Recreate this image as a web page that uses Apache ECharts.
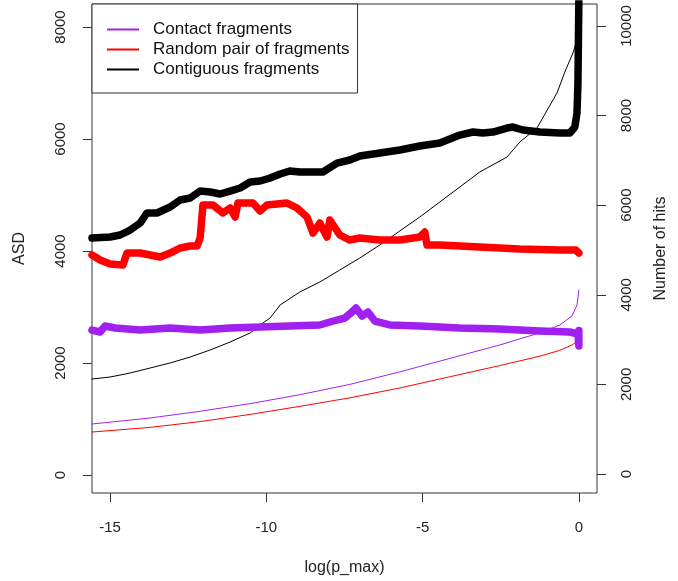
<!DOCTYPE html>
<html>
<head>
<meta charset="utf-8">
<script src="https://cdn.jsdelivr.net/npm/echarts/dist/echarts.min.js"></script>
<style>
html,body{margin:0;padding:0;background:#fff;}
#chart{width:678px;height:581px;}
</style>
</head>
<body>
<div id="chart"></div>
<script>
// ---- data ----
const seriesNames = ['Contact fragments', 'Random pair of fragments', 'Contiguous fragments'];
const xTicks = [-15, -10, -5, 0];
const asdTicks = [0, 2000, 4000, 6000, 8000];
const hitsTicks = [0, 2000, 4000, 6000, 8000, 10000];

// ASD (left axis), thick lines
const contiguousAsdX = [-15.58,-15.00,-14.68,-14.36,-14.04,-13.82,-13.50,-13.08,-12.76,-12.44,-12.12,-11.80,-11.48,-11.16,-10.84,-10.52,-10.20,-9.88,-9.56,-9.25,-8.93,-8.61,-8.19,-7.74,-7.33,-7.01,-6.37,-5.73,-5.09,-4.45,-3.81,-3.39,-3.07,-2.75,-2.30,-2.11,-1.79,-1.25,-0.61,-0.29,-0.13,-0.06,-0.03,0];
const contiguousAsd = [4232,4250,4286,4375,4500,4679,4679,4786,4911,4946,5071,5054,5018,5071,5125,5232,5250,5304,5375,5429,5411,5411,5411,5571,5625,5696,5750,5804,5875,5929,6071,6125,6107,6125,6196,6214,6161,6125,6107,6107,6214,6464,7000,8500];

const randomAsdX = [-15.58,-15.32,-15.00,-14.59,-14.46,-14.04,-13.72,-13.40,-13.08,-12.76,-12.44,-12.22,-12.12,-12.03,-11.71,-11.39,-11.16,-11.00,-10.91,-10.43,-10.20,-9.98,-9.34,-9.02,-8.70,-8.51,-8.29,-8.06,-7.97,-7.65,-7.33,-7.01,-6.37,-5.73,-5.09,-4.93,-4.86,-4.45,-3.17,-1.89,-0.61,-0.10,0];
const randomAsd = [3929,3839,3768,3750,3964,3964,3929,3893,3964,4054,4089,4089,4232,4821,4821,4679,4768,4607,4857,4857,4714,4821,4857,4768,4607,4321,4500,4250,4554,4286,4196,4232,4196,4196,4250,4339,4107,4107,4071,4036,4018,4018,3964];

const contactAsdX = [-15.58,-15.32,-15.16,-14.84,-14.04,-13.08,-12.12,-11.16,-10.20,-9.25,-8.29,-7.74,-7.49,-7.26,-7.13,-6.94,-6.75,-6.53,-6.05,-5.09,-3.81,-2.53,-1.25,-0.29,-0.03,0,0];
const contactAsd = [2589,2554,2661,2625,2589,2625,2589,2625,2643,2661,2679,2768,2804,2911,2982,2839,2911,2750,2679,2661,2625,2607,2571,2554,2518,2304,2580];

// Number of hits (right axis), thin lines
const contiguousHitsX = [-15.58,-15.00,-14.36,-13.72,-13.08,-12.44,-11.80,-11.16,-10.52,-10.20,-9.88,-9.56,-8.93,-8.29,-7.65,-7.01,-6.37,-5.73,-5.09,-4.45,-3.81,-3.17,-2.30,-1.89,-1.34,-0.70,-0.45,-0.19,-0.06,0];
const contiguousHits = [2120,2165,2254,2366,2478,2611,2768,2946,3147,3326,3482,3772,4062,4285,4553,4821,5111,5424,5736,6071,6406,6741,7075,7410,7723,8504,8973,9397,9687,9910];

const contactHitsX = [-15.58,-13.72,-12.12,-10.52,-8.93,-7.33,-5.73,-4.13,-2.53,-1.25,-0.61,-0.22,-0.06,0];
const contactHits = [1116,1250,1400,1570,1770,2000,2280,2580,2880,3150,3326,3527,3772,4107];

const randomHitsX = [-15.58,-13.72,-12.12,-10.52,-8.93,-7.33,-5.73,-4.13,-2.53,-1.25,-0.61,-0.22,0];
const randomHits = [937,1040,1170,1330,1510,1700,1920,2170,2420,2630,2760,2880,2990];

// ---- chart ----
const FONT = '"Liberation Sans", Arial, Helvetica, sans-serif';
const COL = {contact: '#A020F0', random: '#FF0000', contig: '#000000'};
const zip = (xs, ys) => xs.map((x, i) => [x, ys[i]]);
const plain = v => String(v);

function line(name, xs, ys, color, width, axis, z) {
  return {
    name: name, type: 'line', yAxisIndex: axis, data: zip(xs, ys),
    showSymbol: false, symbol: 'none', color: color, z: z,
    lineStyle: {color: color, width: width, cap: 'round', join: 'round'},
    emphasis: {disabled: true}, animation: false
  };
}

const chart = echarts.init(document.getElementById('chart'), null, {renderer: 'canvas'});
const tickStyle = {color: '#333', width: 1};
chart.setOption({
  backgroundColor: '#fff',
  animation: false,
  textStyle: {fontFamily: FONT},
  grid: {left: 92, right: 81, top: 4, bottom: 88, show: true, borderColor: '#333', borderWidth: 1, backgroundColor: 'transparent'},
  legend: {
    orient: 'vertical', left: 92, top: 4,
    padding: [17, 8, 15, 15], itemGap: 3, itemWidth: 32, itemHeight: 2, icon: 'rect',
    borderColor: '#333', borderWidth: 1, backgroundColor: '#fff', borderRadius: 0,
    textStyle: {fontSize: 17, lineHeight: 16.5, color: '#111', fontFamily: FONT, padding: [0, 0, 0, 9]},
    data: seriesNames, selectedMode: false
  },
  xAxis: {
    type: 'value', min: -15.58, max: 0.58,
    axisLine: {show: false, onZero: false},
    axisTick: {show: true, customValues: xTicks, length: 9, lineStyle: tickStyle},
    axisLabel: {customValues: xTicks, formatter: plain, margin: 27, fontSize: 15, color: '#222', fontFamily: FONT},
    splitLine: {show: false},
    name: 'log(p_max)', nameLocation: 'middle', nameGap: 67,
    nameTextStyle: {fontSize: 16, color: '#222', fontFamily: FONT}
  },
  yAxis: [{
    type: 'value', position: 'left', min: -321, max: 8411,
    axisLine: {show: false, onZero: false},
    axisTick: {show: true, customValues: asdTicks, length: 9, lineStyle: tickStyle},
    axisLabel: {customValues: asdTicks, formatter: plain, rotate: 90, margin: 24, fontSize: 15, color: '#222', fontFamily: FONT},
    splitLine: {show: false},
    name: 'ASD', nameLocation: 'middle', nameGap: 64, nameRotate: 90,
    nameTextStyle: {fontSize: 16, color: '#222', fontFamily: FONT}
  }, {
    type: 'value', position: 'right', min: -424, max: 10490,
    axisLine: {show: false, onZero: false},
    axisTick: {show: true, customValues: hitsTicks, length: 9, lineStyle: tickStyle},
    axisLabel: {customValues: hitsTicks, formatter: plain, rotate: 90, margin: 22, fontSize: 15, color: '#222', fontFamily: FONT},
    splitLine: {show: false},
    name: 'Number of hits', nameLocation: 'middle', nameGap: 56, nameRotate: 90,
    nameTextStyle: {fontSize: 16, color: '#222', fontFamily: FONT}
  }],
  series: [
    line('Contiguous fragments hits', contiguousHitsX, contiguousHits, COL.contig, 1, 1, 2),
    line('Contact fragments hits', contactHitsX, contactHits, COL.contact, 1, 1, 2),
    line('Random pair of fragments hits', randomHitsX, randomHits, COL.random, 1, 1, 2),
    line('Contact fragments', contactAsdX, contactAsd, COL.contact, 7.5, 0, 3),
    line('Random pair of fragments', randomAsdX, randomAsd, COL.random, 7.5, 0, 3),
    line('Contiguous fragments', contiguousAsdX, contiguousAsd, COL.contig, 7.5, 0, 3)
  ]
});
</script>
</body>
</html>
